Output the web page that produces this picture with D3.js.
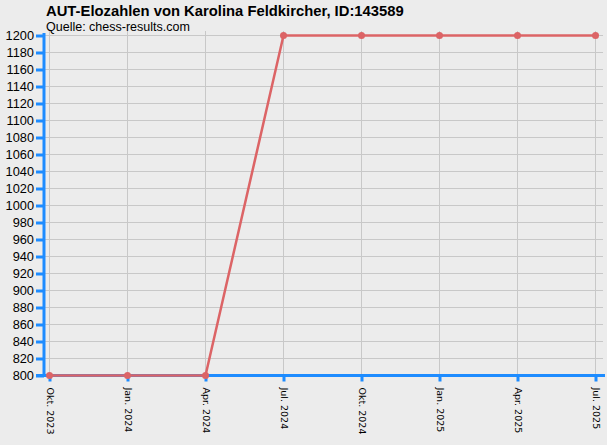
<!DOCTYPE html>
<html>
<head>
<meta charset="utf-8">
<script src="https://cdn.jsdelivr.net/npm/d3@7"></script>
<style>
html,body{margin:0;padding:0;background:#ececec;}
svg{display:block;}
</style>
</head>
<body>
<script>
const categories = ["Okt. 2023","Jan. 2024","Apr. 2024","Jul. 2024","Okt. 2024","Jan. 2025","Apr. 2025","Jul. 2025"];
const values = [800, 800, 800, 1200, 1200, 1200, 1200, 1200];
const yTicks = d3.range(800, 1201, 20);
const title = "AUT-Elozahlen von Karolina Feldkircher, ID:143589";
const subtitle = "Quelle: chess-results.com";

const W = 607, H = 445;
const svg = d3.select("body").append("svg").attr("width", W).attr("height", H);
svg.append("rect").attr("width", W).attr("height", H).attr("fill", "#ececec");

const x = d3.scalePoint().domain(categories).range([49, 595]);
const y = d3.scaleLinear().domain([800, 1200]).range([375.5, 35.5]);

// grid
svg.append("g").selectAll("line").data(yTicks).join("line")
  .attr("x1", 44).attr("x2", 603)
  .attr("y1", d => y(d)).attr("y2", d => y(d))
  .attr("stroke", "#c8c8c8").attr("stroke-width", 1);
svg.append("g").selectAll("line").data(categories).join("line")
  .attr("x1", d => x(d) + 0.5).attr("x2", d => x(d) + 0.5)
  .attr("y1", 31).attr("y2", 375)
  .attr("stroke", "#c8c8c8").attr("stroke-width", 1);

// y axis
const yAxis = d3.axisLeft(y).tickValues(yTicks).tickFormat(d3.format("d")).tickSize(8).tickPadding(2);
const gy = svg.append("g").attr("transform", "translate(44,0)").call(yAxis);
gy.select(".domain").attr("stroke", "#1e8cff").attr("stroke-width", 3).attr("d", "M0,33V377");
gy.selectAll(".tick line").attr("stroke", "#1e8cff").attr("stroke-width", 3);
gy.selectAll(".tick text").attr("fill", "#000").attr("font-family", "Liberation Sans, Arial, sans-serif").attr("font-size", 12.8).attr("dy", "0.35em");

// x axis
const xAxis = d3.axisBottom(x).tickSize(6).tickPadding(0);
const gx = svg.append("g").attr("transform", "translate(0,375.5)").call(xAxis);
gx.select(".domain").attr("stroke", "#1e8cff").attr("stroke-width", 3).attr("d", "M36,0H605");
gx.selectAll(".tick line").attr("stroke", "#1e8cff").attr("stroke-width", 3).attr("transform", "translate(0.5,0)");
gx.selectAll(".tick text")
  .attr("fill", "#000").attr("font-family", "DejaVu Sans, sans-serif").attr("font-size", 9.5)
  .attr("text-anchor", "start").attr("dy", null)
  .attr("transform", "translate(-3,12) rotate(90)")
  .attr("x", 0).attr("y", 0);

// line
const line = d3.line().x((d, i) => x(categories[i]) + 0.5).y(d => y(d));
svg.append("path").datum(values).attr("d", line)
  .attr("fill", "none").attr("stroke", "#dc6466").attr("stroke-width", 2.5).attr("stroke-linejoin", "round");
svg.append("g").selectAll("circle").data(values).join("circle")
  .attr("cx", (d, i) => x(categories[i]) + 0.5).attr("cy", d => y(d)).attr("r", 3.5)
  .attr("fill", "#dc6466");

// titles
svg.append("text").attr("x", 46).attr("y", 16).text(title)
  .attr("font-family", "Liberation Sans, Arial, sans-serif").attr("font-weight", "bold").attr("font-size", 14.8).attr("fill", "#000");
svg.append("text").attr("x", 46).attr("y", 31).text(subtitle)
  .attr("font-family", "Liberation Sans, Arial, sans-serif").attr("font-size", 12.5).attr("fill", "#000");
</script>
</body>
</html>
